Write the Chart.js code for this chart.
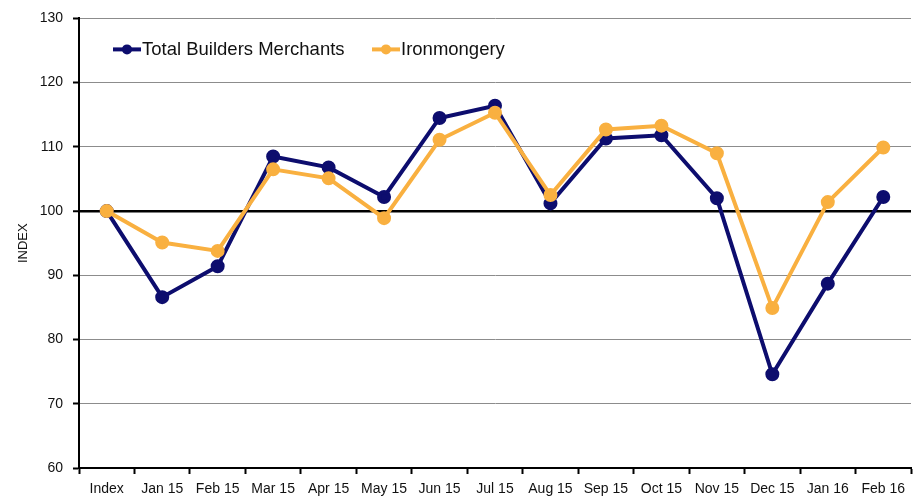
<!DOCTYPE html>
<html>
<head>
<meta charset="utf-8">
<script src="https://cdn.jsdelivr.net/npm/chart.js@4"></script>
<style>
  html, body { margin: 0; padding: 0; background: #fff; }
  #wrap { width: 920px; height: 501px; }
</style>
</head>
<body>
<div id="wrap"><canvas id="indexChart"></canvas></div>
<script>
// Data
const months = ['Index', 'Jan 15', 'Feb 15', 'Mar 15', 'Apr 15', 'May 15', 'Jun 15', 'Jul 15',
    'Aug 15', 'Sep 15', 'Oct 15', 'Nov 15', 'Dec 15', 'Jan 16', 'Feb 16'];
const totalBuilders = [100, 86.6, 91.4, 108.5, 106.8, 102.2, 114.5, 116.4, 101.2, 111.3, 111.8, 102.0, 74.6, 88.7, 102.2];
const ironmongery = [100, 95.1, 93.8, 106.5, 105.1, 98.9, 111.1, 115.3, 102.5, 112.7, 113.3, 109.0, 84.9, 101.4, 109.9];
const yTicks = [60, 70, 80, 90, 100, 110, 120, 130];

const navy = '#0d0d6e';
const orange = '#f9b040';
const font = 'Liberation Sans, Arial, sans-serif';

// Legend drawn inside the plot area, top left
const insideLegend = {
    id: 'insideLegend',
    afterDraw(chart) {
        const ctx = chart.ctx;
        const area = chart.chartArea;
        const y = area.top + 31;
        const items = [
            { label: 'Total Builders Merchants', color: navy, x: area.left + 34 },
            { label: 'Ironmongery', color: orange, x: area.left + 293 }
        ];
        ctx.save();
        ctx.font = '18.5px ' + font;
        ctx.textBaseline = 'middle';
        items.forEach(item => {
            ctx.strokeStyle = item.color;
            ctx.lineWidth = 4;
            ctx.beginPath();
            ctx.moveTo(item.x, y);
            ctx.lineTo(item.x + 28, y);
            ctx.stroke();
            ctx.fillStyle = item.color;
            ctx.beginPath();
            ctx.arc(item.x + 14, y, 5, 0, Math.PI * 2);
            ctx.fill();
            ctx.fillStyle = '#111';
            ctx.fillText(item.label, item.x + 29, y + 1);
        });
        ctx.restore();
    }
};

const ctx = document.getElementById('indexChart').getContext('2d');
const chart = new Chart(ctx, {
    type: 'line',
    data: {
        labels: months,
        datasets: [{
            label: 'Ironmongery',
            data: ironmongery,
            borderColor: orange,
            backgroundColor: orange,
            borderWidth: 4,
            pointRadius: 5,
            pointHoverRadius: 5,
            tension: 0
        }, {
            label: 'Total Builders Merchants',
            data: totalBuilders,
            borderColor: navy,
            backgroundColor: navy,
            borderWidth: 4,
            pointRadius: 5,
            pointHoverRadius: 5,
            tension: 0
        }]
    },
    options: {
        responsive: true,
        maintainAspectRatio: false,
        animation: false,
        layout: { padding: { left: 16, right: 8, top: 15, bottom: 0 } },
        plugins: {
            legend: { display: false },
            tooltip: { enabled: false }
        },
        scales: {
            x: {
                offset: true,
                afterFit: scale => { scale.height = 33; },
                grid: {
                    offset: true,
                    drawOnChartArea: false,
                    drawTicks: true,
                    tickLength: 6,
                    tickWidth: 2,
                    tickColor: '#000'
                },
                border: { color: '#000', width: 2 },
                ticks: {
                    padding: 7,
                    maxRotation: 0,
                    autoSkip: false,
                    color: '#111',
                    font: { family: font, size: 14 }
                }
            },
            y: {
                min: 60,
                max: 130,
                afterFit: scale => { scale.width = 63; },
                afterBuildTicks: scale => { scale.ticks = yTicks.map(v => ({ value: v })); },
                title: {
                    display: true,
                    text: 'INDEX',
                    color: '#111',
                    padding: { top: 0, bottom: 0 },
                    font: { family: font, size: 13 }
                },
                grid: {
                    color: c => c.tick && (c.tick.value === 100 || c.tick.value === 60) ? '#000' : '#8c8c8c',
                    lineWidth: c => c.tick && c.tick.value === 100 ? 2.5 : 1,
                    tickColor: '#000',
                    tickWidth: 2,
                    tickLength: 6
                },
                border: { color: '#000', width: 2 },
                ticks: {
                    padding: 10,
                    color: '#111',
                    font: { family: font, size: 14 }
                }
            }
        }
    },
    plugins: [insideLegend]
});
</script>
</body>
</html>
